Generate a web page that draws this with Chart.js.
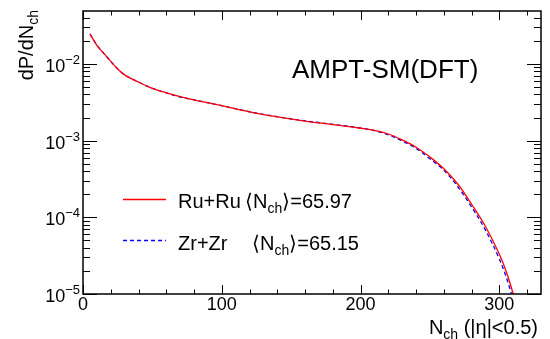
<!DOCTYPE html>
<html>
<head>
<meta charset="utf-8">
<script src="https://cdn.jsdelivr.net/npm/chart.js@4.4.0/dist/chart.umd.min.js"></script>
<style>
  html, body { margin: 0; padding: 0; background: #fff; }
  canvas { display: block; }
</style>
</head>
<body>
<canvas id="chart" width="550" height="339"></canvas>
<script>
// N_ch bins (|eta|<0.5)
const nch = [5, 10, 15, 20, 25, 30, 40, 50, 60, 70, 80, 100, 120, 140, 160, 180,
             200, 210, 220, 230, 240, 250, 260, 270, 280, 290, 300, 305, 310, 315];

// dP/dN_ch
const ruru = [0.0245, 0.0175, 0.0137, 0.0108, 0.0086, 0.0072, 0.0058, 0.0048, 0.0042, 0.00375,
              0.0034, 0.00285, 0.00237, 0.00204, 0.0018, 0.00162, 0.00145, 0.00136, 0.00122, 0.00102,
              0.00082, 0.00061, 0.00043, 0.000272, 0.000148, 7.6e-5, 3.3e-5, 1.95e-5, 1.0e-5, 4.5e-6];
const zrzr = [0.0246, 0.0176, 0.0137, 0.0108, 0.0086, 0.0072, 0.0058, 0.0048, 0.0042, 0.0037,
              0.0034, 0.00285, 0.00238, 0.00205, 0.00181, 0.00163, 0.00146, 0.00135, 0.00119, 0.00099,
              0.00079, 0.00058, 0.00041, 0.000252, 0.000136, 6.8e-5, 2.85e-5, 1.65e-5, 8.3e-6, 3.7e-6];

// axis ticks
const xMajor = [0, 100, 200, 300];
const xMinorStep = 20;
const yDecades = [-5, -4, -3, -2];

const FONT = '"Liberation Sans", Arial, Helvetica, sans-serif';

function toPoints(xs, ys) {
    return xs.map((v, i) => ({ x: v, y: ys[i] }));
}

// draw a list of [text, size, dy] pieces one after another
function drawPieces(ctx, pieces, x, y) {
    let cx = x;
    pieces.forEach(([txt, size, dy]) => {
        ctx.font = size + 'px ' + FONT;
        ctx.fillText(txt, cx, y + (dy || 0));
        cx += ctx.measureText(txt).width;
    });
    return cx - x;
}

function piecesWidth(ctx, pieces) {
    let w = 0;
    pieces.forEach(([txt, size]) => {
        ctx.font = size + 'px ' + FONT;
        w += ctx.measureText(txt).width;
    });
    return w;
}

// frame, ROOT style inner ticks, labels and legend
const rootFrame = {
    id: 'rootFrame',
    afterDraw(chart) {
        const { ctx, chartArea: a, scales: { x, y } } = chart;
        ctx.save();
        ctx.strokeStyle = '#000';
        ctx.fillStyle = '#000';
        ctx.lineWidth = 1.5;
        ctx.strokeRect(a.left, a.top, a.right - a.left, a.bottom - a.top);

        ctx.lineWidth = 1;
        ctx.beginPath();
        // x ticks, bottom and top
        for (let v = 0; v <= x.max; v += xMinorStep) {
            const px = Math.round(x.getPixelForValue(v)) + 0.5;
            const len = xMajor.includes(v) ? 9 : 4.5;
            ctx.moveTo(px, a.bottom); ctx.lineTo(px, a.bottom - len);
            ctx.moveTo(px, a.top); ctx.lineTo(px, a.top + len);
        }
        // y ticks, left and right
        yDecades.forEach(d => {
            for (let m = 1; m <= 9; m++) {
                const v = m * Math.pow(10, d);
                if (v > y.max) break;
                const py = Math.round(y.getPixelForValue(v)) + 0.5;
                const len = m === 1 ? 14 : 7;
                ctx.moveTo(a.left, py); ctx.lineTo(a.left + len, py);
                ctx.moveTo(a.right, py); ctx.lineTo(a.right - len, py);
            }
        });
        ctx.stroke();

        // x tick labels
        ctx.textBaseline = 'alphabetic';
        ctx.textAlign = 'center';
        ctx.font = '18px ' + FONT;
        xMajor.forEach(v => ctx.fillText(String(v), x.getPixelForValue(v), 310));

        // y tick labels 10^d
        ctx.textAlign = 'left';
        yDecades.forEach(d => {
            const py = y.getPixelForValue(Math.pow(10, d));
            const pieces = [['10', 18, 8], ['\u2212' + Math.abs(d), 13, 0]];
            const w = piecesWidth(ctx, pieces);
            drawPieces(ctx, pieces, 80 - w, py);
        });

        // axis titles
        const xt = [['N', 20, 0], ['ch', 14, 5], [' (|\u03b7|<0.5)', 20, 0]];
        drawPieces(ctx, xt, 538 - piecesWidth(ctx, xt), 334);

        const yt = [['dP/dN', 20, 0], ['ch', 14, 5]];
        ctx.save();
        ctx.translate(33, 10 + piecesWidth(ctx, yt));
        ctx.rotate(-Math.PI / 2);
        drawPieces(ctx, yt, 0, 0);
        ctx.restore();

        // model label
        ctx.font = '26px ' + FONT;
        ctx.fillText('AMPT-SM(DFT)', 292, 78);

        // legend
        ctx.lineWidth = 1.3;
        ctx.strokeStyle = '#ff0000';
        ctx.beginPath(); ctx.moveTo(123, 199.5); ctx.lineTo(166, 199.5); ctx.stroke();
        ctx.strokeStyle = '#0000ff';
        ctx.setLineDash([4, 3]);
        ctx.beginPath(); ctx.moveTo(123, 240.5); ctx.lineTo(166, 240.5); ctx.stroke();
        ctx.setLineDash([]);

        drawPieces(ctx, [['Ru+Ru', 20, 0]], 178, 208);
        drawPieces(ctx, [['\u27e8N', 20, 0], ['ch', 14, 5], ['\u27e9=65.97', 20, 0]], 245, 208);
        drawPieces(ctx, [['Zr+Zr', 20, 0]], 178, 250);
        drawPieces(ctx, [['\u27e8N', 20, 0], ['ch', 14, 5], ['\u27e9=65.15', 20, 0]], 252, 250);

        ctx.restore();
    }
};

new Chart(document.getElementById('chart'), {
    type: 'line',
    data: {
        datasets: [
            {
                label: 'Ru+Ru',
                data: toPoints(nch, ruru),
                borderColor: '#ff0000',
                borderWidth: 1.3,
                pointRadius: 0,
                cubicInterpolationMode: 'monotone'
            },
            {
                label: 'Zr+Zr',
                data: toPoints(nch, zrzr),
                borderColor: '#0000ff',
                borderWidth: 1.3,
                borderDash: [4, 3],
                pointRadius: 0,
                cubicInterpolationMode: 'monotone'
            }
        ]
    },
    options: {
        responsive: false,
        animation: false,
        layout: { padding: { left: 83, right: 9, top: 11, bottom: 45 } },
        plugins: { legend: { display: false }, tooltip: { enabled: false } },
        scales: {
            x: { type: 'linear', min: 0, max: 330, display: false },
            y: { type: 'logarithmic', min: 1e-5, max: 0.049, display: false }
        }
    },
    plugins: [rootFrame]
});
</script>
</body>
</html>
